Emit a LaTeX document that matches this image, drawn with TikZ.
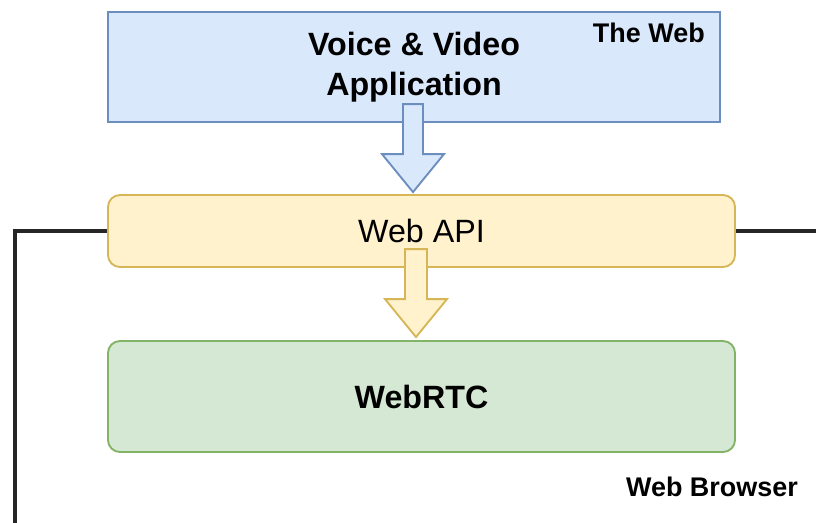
\documentclass[tikz,border=0pt]{standalone}
\usepackage{fontspec}
\setmainfont{Liberation Sans}
\usetikzlibrary{calc}

\definecolor{appfill}{HTML}{DAE8FC}
\definecolor{appline}{HTML}{6C8EBF}
\definecolor{apifill}{HTML}{FFF2CC}
\definecolor{apiline}{HTML}{D6B656}
\definecolor{rtcfill}{HTML}{D5E8D4}
\definecolor{rtcline}{HTML}{82B366}

\begin{document}
\begin{tikzpicture}[
  x=0.03cm, y=-0.03cm,
  appbox/.style={draw=appline, fill=appfill, line width=1.6pt, minimum width=18.36cm, minimum height=3.3cm, align=center, font=\fontsize{27.5}{34}\selectfont\bfseries},
  apibox/.style={draw=apiline, fill=apifill, line width=1.6pt, rounded corners=0.36cm, minimum width=18.81cm, minimum height=2.16cm, font=\fontsize{27.5}{34}\selectfont},
  rtcbox/.style={draw=rtcline, fill=rtcfill, line width=1.6pt, rounded corners=0.36cm, minimum width=18.81cm, minimum height=3.33cm, font=\fontsize{27.5}{34}\selectfont\bfseries},
  tag/.style={inner sep=0pt, font=\fontsize{23}{28}\selectfont\bfseries},
  fatarrow/.style={line width=1.6pt, line join=miter},
  edge/.style={line width=2.8pt, black!85}
]
\useasboundingbox[fill=white] (0,0) rectangle (816,522);

\node[appbox] (app) at (414,67) {Voice \& Video\\Application};
\node[apibox] (api) at (421.5,231) {Web API};
\node[rtcbox] (rtc) at (421.5,396.5) {WebRTC};

\node[tag, anchor=base east] (web) at (705,42) {The Web};
\node[tag, anchor=base east] (browser) at (798,496) {Web Browser};

% browser frame
\coordinate (browserSW) at (15,540);
\coordinate (browserE) at (840,0);
\draw[edge] (api.west) -| (browserSW);
\draw[edge] (api.east) -- (api.east -| browserE);

% fat arrows
\coordinate (tipA) at ($(api.north)+(-8.5,-2)$);
\draw[fatarrow, draw=appline, fill=appfill] (tipA) -- ++(-31,-38) -- ++(21,0) -- ++(0,-50) -- ++(20,0) -- ++(0,50) -- ++(21,0) -- cycle;
\coordinate (tipB) at ($(rtc.north)+(-5.5,-3)$);
\draw[fatarrow, draw=apiline, fill=apifill] (tipB) -- ++(-31,-38) -- ++(20,0) -- ++(0,-50) -- ++(22,0) -- ++(0,50) -- ++(20,0) -- cycle;
\end{tikzpicture}
\end{document}
